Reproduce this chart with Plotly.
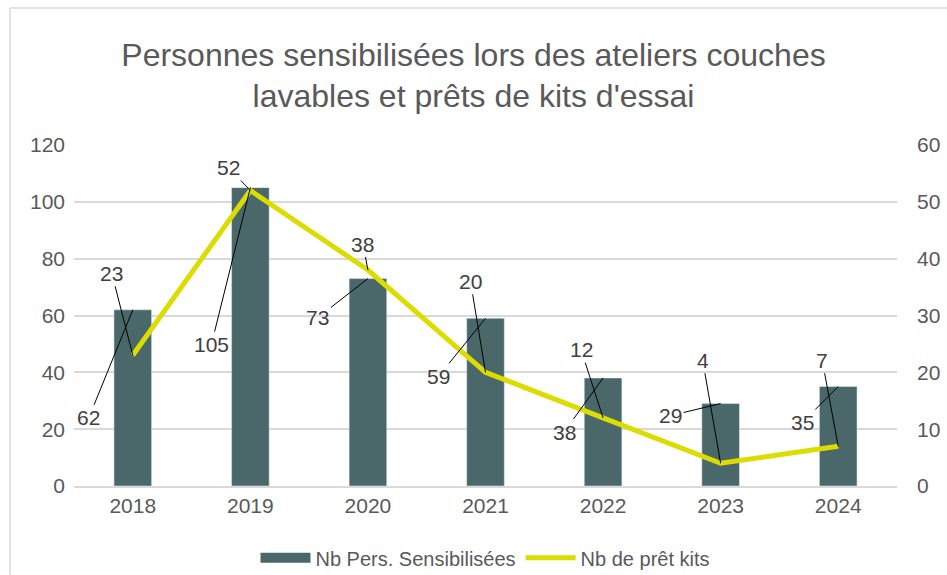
import plotly.graph_objects as go

years = ["2018", "2019", "2020", "2021", "2022", "2023", "2024"]
persons = [62, 105, 73, 59, 38, 29, 35]
kits = [23, 52, 38, 20, 12, 4, 7]

# label offsets (pixels) from the data point for the leader-line labels
bar_label_offsets = [(-44, 108), (-39, 157), (-50, 39), (-47, 58), (-39, 54), (-50, 12), (-36, 36)]
line_label_offsets = [(-21, -82), (-22, -23), (-5, -26), (-15, -91), (-22, -68), (-18, -103), (-16, -86)]

BAR_COLOR = "#4a6869"
LINE_COLOR = "#dcdc00"
TEXT_COLOR = "#595959"
LABEL_COLOR = "#404040"
FONT = "Liberation Sans, Arial, sans-serif"

fig = go.Figure()
fig.add_trace(go.Bar(
    x=years, y=persons, name="Nb Pers. Sensibilisées",
    marker_color=BAR_COLOR, width=0.32, yaxis="y", showlegend=False,
))
# legend swatch for the bars: wide filled block
fig.add_trace(go.Scatter(
    x=[None], y=[None], name="Nb Pers. Sensibilisées", mode="lines",
    line=dict(color=BAR_COLOR, width=14), yaxis="y",
))
fig.add_trace(go.Scatter(
    x=years, y=kits, name="Nb de prêt kits", mode="lines",
    line=dict(color=LINE_COLOR, width=5), yaxis="y2",
))

annotations = []
# category axis: annotations are placed by category index
for i, (v, (ax, ay)) in enumerate(zip(persons, bar_label_offsets)):
    annotations.append(dict(
        x=i, y=v, xref="x", yref="y", text=str(v), showarrow=True,
        arrowhead=0, arrowwidth=1, arrowcolor="black", ax=ax, ay=ay,
        font=dict(size=21, color=LABEL_COLOR, family=FONT),
    ))
for i, (v, (ax, ay)) in enumerate(zip(kits, line_label_offsets)):
    annotations.append(dict(
        x=i, y=v, xref="x", yref="y2", text=str(v), showarrow=True,
        arrowhead=0, arrowwidth=1, arrowcolor="black", ax=ax, ay=ay,
        font=dict(size=21, color=LABEL_COLOR, family=FONT),
    ))

fig.update_layout(
    width=947, height=575,
    margin=dict(l=74, r=50, t=145, b=89, autoexpand=False),
    paper_bgcolor="white", plot_bgcolor="white",
    font=dict(family=FONT, color=TEXT_COLOR, size=20),
    title=dict(
        text="Personnes sensibilisées lors des ateliers couches<br>lavables et prêts de kits d'essai",
        x=0.5, xanchor="center", y=0.886, yanchor="middle",
        font=dict(size=32, color=TEXT_COLOR, family=FONT),
    ),
    xaxis=dict(type="category", range=[-0.5, 6.5], showgrid=False, showline=True,
               linecolor="#d9d9d9", linewidth=1.5,
               ticks="", tickfont=dict(size=21, color=TEXT_COLOR)),
    yaxis=dict(range=[0, 120], dtick=20, showgrid=True, gridcolor="#d9d9d9", gridwidth=1.5,
               zeroline=False, showline=False, ticks="", ticklabelstandoff=8,
               tickfont=dict(size=21, color=TEXT_COLOR)),
    yaxis2=dict(range=[0, 60], dtick=10, overlaying="y", side="right", showgrid=False,
                zeroline=False, showline=False, ticks="", ticklabelstandoff=19,
                tickfont=dict(size=21, color=TEXT_COLOR)),
    legend=dict(orientation="h", x=0.5, xanchor="center", yref="container", y=0.03, yanchor="middle",
                font=dict(size=20, color=TEXT_COLOR), itemwidth=50),
    showlegend=True,
    annotations=annotations,
    shapes=[
        dict(type="line", xref="paper", yref="paper", x0=-0.0778, x1=-0.0778, y0=1.402, y1=-0.3,
             line=dict(color="#d9d9d9", width=1.5)),
        dict(type="line", xref="paper", yref="paper", x0=-0.0778, x1=1.1, y0=1.402, y1=1.402,
             line=dict(color="#d9d9d9", width=1.5)),
    ],
)

fig.write_html("out.html")
